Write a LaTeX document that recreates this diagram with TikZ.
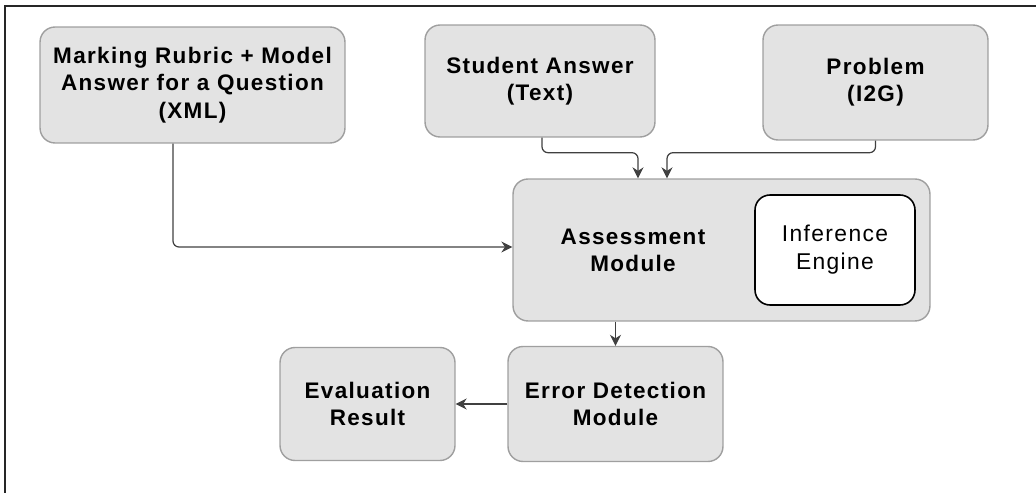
\documentclass[tikz,border=0pt]{standalone}
\usepackage{fontspec}
\setmainfont{Liberation Sans}[LetterSpace=6]
\usepackage{tikz}
\usetikzlibrary{positioning, shapes}
\usetikzlibrary{arrows.meta}

\begin{document}
\begin{tikzpicture}[x=0.02cm, y=-0.02cm]
            \tikzset{box/.style = {draw=gray!75, fill=gray!22, line width=0.8pt, rounded corners=0.3cm, align=center, font=\fontsize{12.8}{15.5}\selectfont\bfseries}}
            \tikzset{flow/.style = {draw=black!75, line width=0.7pt, rounded corners=0.12cm, -{Stealth[length=2.2mm, width=2.2mm]}}}

            \useasboundingbox (0,0) rectangle (1036,493);

            % frame
            \draw[line width=1.6pt, black!85] (5,493) -- (5,6) -- (1036,6);

            % inputs
            \node[box, minimum width=6.1cm, minimum height=2.32cm] (rubric) at (192.5,85) {Marking Rubric + Model\\Answer for a Question\\(XML)};
            \node[box, minimum width=4.6cm, minimum height=2.24cm] (student) at (540,81) {Student Answer\\(Text)};
            \node[box, minimum width=4.5cm, minimum height=2.3cm] (problem) at (875.5,82.5) {Problem\\(I2G)};

            % assessment
            \node[box, minimum width=8.34cm, minimum height=2.84cm] (assess) at (721.5,250) {};
            \node[align=center, font=\fontsize{12.8}{15.5}\selectfont\bfseries] (assesslbl) at (633,250) {Assessment\\Module};
            \node[draw=black, fill=white, line width=0.9pt, rounded corners=0.3cm, align=center,
                  minimum width=3.2cm, minimum height=2.2cm, font=\fontsize{13}{16}\selectfont] (engine) at (835,250) {Inference\\Engine};

            % outputs
            \node[box, minimum width=4.3cm, minimum height=2.3cm] (error) at (615.5,404) {Error Detection\\Module};
            \node[box, minimum width=3.5cm, minimum height=2.26cm] (result) at (367.5,404) {Evaluation\\Result};

            % arrows
            \draw[flow] ([xshift=-0.39cm]rubric.south) |- ([yshift=0.06cm]assess.west);
            \draw[flow] ([xshift=0.04cm]student.south) -- ++(0,15) -| ([xshift=-1.67cm]assess.north);
            \draw[flow] (problem.south) -- ++(0,12) -| ([xshift=-1.09cm]assess.north);
            \draw[flow] (error.north |- assess.south) -- (error.north);
            \draw[flow] (error.west) -- (result.east);

\end{tikzpicture}
\end{document}
